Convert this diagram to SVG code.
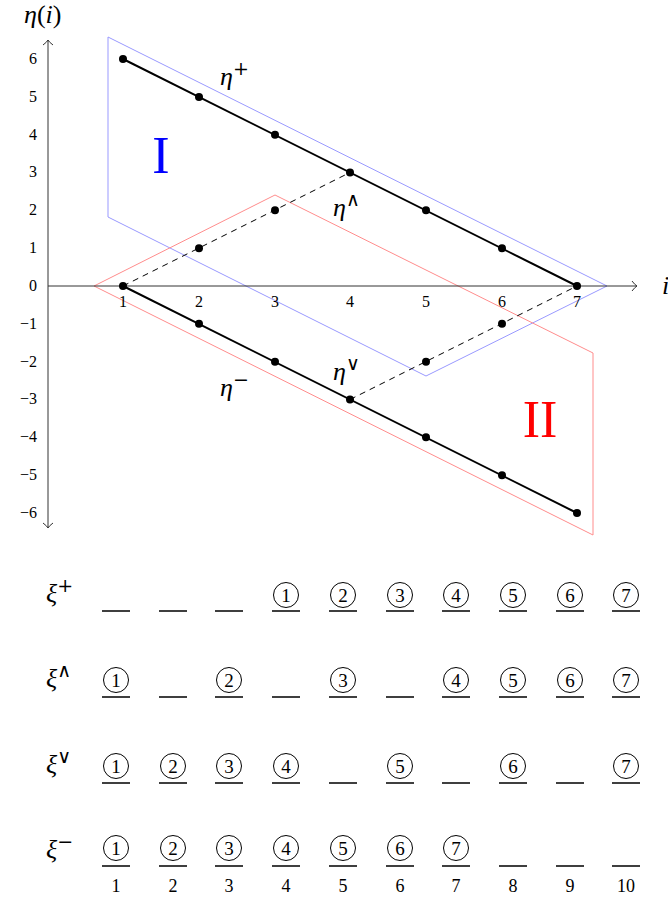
<svg xmlns="http://www.w3.org/2000/svg" width="668" height="901" viewBox="0 0 668 901">
<style>
text{font-family:"Liberation Serif","DejaVu Serif",serif;fill:#000}
.it{font-style:italic}
.tick{font-size:16px}
.lbl{font-size:26px}
.sup{font-size:19px;font-style:normal;font-family:"DejaVu Serif",serif}
.op{font-size:19px;font-style:normal;font-family:"DejaVu Sans",sans-serif}
.axis{stroke:#333;stroke-width:1;fill:none}
.main{stroke:#000;stroke-width:2;fill:none}
.dash{stroke:#000;stroke-width:1;stroke-dasharray:6,5;fill:none}
.dot{fill:#000}
.circ{fill:none;stroke:#000;stroke-width:1}
.ul{stroke:#000;stroke-width:1.3}
.cd{font-size:19px;text-anchor:middle}
.cn{font-size:18px;text-anchor:middle}
</style>
<defs>
<marker id="arr" viewBox="-6 -6 8 12" markerWidth="8" markerHeight="12" refX="0" refY="0" orient="auto-start-reverse" markerUnits="userSpaceOnUse">
<path d="M-5,-5 Q-2,-1 0,0 Q-2,1 -5,5" fill="none" stroke="#333" stroke-width="1"/>
</marker>
</defs>
<g id="regions">
<polygon id="region-I" points="108,37 108,217 426,376 607,286" fill="none" stroke="#9999ff" stroke-width="1"/>
<polygon id="region-II" points="94,286 275,195 593,353 593,535" fill="none" stroke="#ff8c8c" stroke-width="1"/>
<text x="161" y="173" font-size="52" text-anchor="middle" style="fill:#0000ff">I</text>
<text x="540" y="437" font-size="52" text-anchor="middle" style="fill:#ff0000">II</text>
</g>
<g id="axes">
<line class="axis" x1="48" y1="286" x2="637" y2="286" marker-end="url(#arr)"/>
<line class="axis" x1="48" y1="528" x2="48" y2="40" marker-start="url(#arr)" marker-end="url(#arr)"/>
<text x="24" y="23" font-size="26"><tspan class="it">η</tspan>(<tspan class="it">i</tspan>)</text>
<text class="lbl it" x="662" y="294">i</text>
<g class="tick" text-anchor="end">
<text x="37" y="64">6</text>
<text x="37" y="102">5</text>
<text x="37" y="140">4</text>
<text x="37" y="177">3</text>
<text x="37" y="215">2</text>
<text x="37" y="253">1</text>
<text x="37" y="291">0</text>
<text x="37" y="329">−1</text>
<text x="37" y="367">−2</text>
<text x="37" y="404">−3</text>
<text x="37" y="442">−4</text>
<text x="37" y="480">−5</text>
<text x="37" y="518">−6</text>
</g>
<g class="tick" text-anchor="middle">
<text x="123" y="307">1</text>
<text x="199" y="307">2</text>
<text x="275" y="307">3</text>
<text x="350" y="307">4</text>
<text x="426" y="307">5</text>
<text x="502" y="307">6</text>
<text x="577" y="307">7</text>
</g>
</g>
<g id="connectors">
<polyline id="eta-plus" class="main" points="123,59 577,286"/>
<polyline id="eta-minus" class="main" points="123,286 577,513"/>
<polyline id="eta-wedge" class="dash" points="123,286 350,172.5"/>
<polyline id="eta-vee" class="dash" points="350,399.5 577,286"/>
</g>
<g id="points">
<circle class="dot" cx="123" cy="59" r="4"/>
<circle class="dot" cx="199" cy="97" r="4"/>
<circle class="dot" cx="275" cy="134.7" r="4"/>
<circle class="dot" cx="350" cy="172.5" r="4"/>
<circle class="dot" cx="426" cy="210.3" r="4"/>
<circle class="dot" cx="502" cy="248.2" r="4"/>
<circle class="dot" cx="577" cy="286" r="4"/>
<circle class="dot" cx="123" cy="286" r="4"/>
<circle class="dot" cx="199" cy="323.8" r="4"/>
<circle class="dot" cx="275" cy="361.7" r="4"/>
<circle class="dot" cx="350" cy="399.5" r="4"/>
<circle class="dot" cx="426" cy="437.3" r="4"/>
<circle class="dot" cx="502" cy="475.2" r="4"/>
<circle class="dot" cx="577" cy="513" r="4"/>
<circle class="dot" cx="199" cy="248.2" r="4"/>
<circle class="dot" cx="275" cy="210.3" r="4"/>
<circle class="dot" cx="426" cy="361.7" r="4"/>
<circle class="dot" cx="502" cy="323.8" r="4"/>
</g>
<g id="curve-labels">
<text class="lbl it" x="220" y="85">η<tspan class="sup" dy="-10">+</tspan></text>
<text class="lbl it" x="220" y="396">η<tspan class="sup" dy="-10">−</tspan></text>
<text class="lbl it" x="333" y="216">η<tspan class="op" dy="-10">∧</tspan></text>
<text class="lbl it" x="333" y="380">η<tspan class="op" dy="-10">∨</tspan></text>
</g>
<g id="table">
<g id="row-labels">
<text class="lbl it" x="46" y="602">ξ<tspan class="sup" font-size="16" dy="-10">+</tspan></text>
<text class="lbl it" x="46" y="687">ξ<tspan class="op" font-size="16" dy="-10">∧</tspan></text>
<text class="lbl it" x="46" y="773">ξ<tspan class="op" font-size="16" dy="-10">∨</tspan></text>
<text class="lbl it" x="46" y="858">ξ<tspan class="sup" font-size="16" dy="-10">−</tspan></text>
</g>
<g id="underlines">
<path class="ul" d="M102,611h28M159,611h28M215,611h28M272,611h28M329,611h28M386,611h28M442,611h28M499,611h28M556,611h28M612,611h28"/>
<path class="ul" d="M102,697h28M159,697h28M215,697h28M272,697h28M329,697h28M386,697h28M442,697h28M499,697h28M556,697h28M612,697h28"/>
<path class="ul" d="M102,783h28M159,783h28M215,783h28M272,783h28M329,783h28M386,783h28M442,783h28M499,783h28M556,783h28M612,783h28"/>
<path class="ul" d="M102,866h28M159,866h28M215,866h28M272,866h28M329,866h28M386,866h28M442,866h28M499,866h28M556,866h28M612,866h28"/>
</g>
<g id="row-plus">
<circle class="circ" cx="286" cy="595" r="12.5"/><text class="cd" x="286" y="601.5">1</text>
<circle class="circ" cx="343" cy="595" r="12.5"/><text class="cd" x="343" y="601.5">2</text>
<circle class="circ" cx="400" cy="595" r="12.5"/><text class="cd" x="400" y="601.5">3</text>
<circle class="circ" cx="456" cy="595" r="12.5"/><text class="cd" x="456" y="601.5">4</text>
<circle class="circ" cx="513" cy="595" r="12.5"/><text class="cd" x="513" y="601.5">5</text>
<circle class="circ" cx="570" cy="595" r="12.5"/><text class="cd" x="570" y="601.5">6</text>
<circle class="circ" cx="626" cy="595" r="12.5"/><text class="cd" x="626" y="601.5">7</text>
</g>
<g id="row-wedge">
<circle class="circ" cx="116" cy="680" r="12.5"/><text class="cd" x="116" y="686.5">1</text>
<circle class="circ" cx="229" cy="680" r="12.5"/><text class="cd" x="229" y="686.5">2</text>
<circle class="circ" cx="343" cy="680" r="12.5"/><text class="cd" x="343" y="686.5">3</text>
<circle class="circ" cx="456" cy="680" r="12.5"/><text class="cd" x="456" y="686.5">4</text>
<circle class="circ" cx="513" cy="680" r="12.5"/><text class="cd" x="513" y="686.5">5</text>
<circle class="circ" cx="570" cy="680" r="12.5"/><text class="cd" x="570" y="686.5">6</text>
<circle class="circ" cx="626" cy="680" r="12.5"/><text class="cd" x="626" y="686.5">7</text>
</g>
<g id="row-vee">
<circle class="circ" cx="116" cy="766" r="12.5"/><text class="cd" x="116" y="772.5">1</text>
<circle class="circ" cx="173" cy="766" r="12.5"/><text class="cd" x="173" y="772.5">2</text>
<circle class="circ" cx="229" cy="766" r="12.5"/><text class="cd" x="229" y="772.5">3</text>
<circle class="circ" cx="286" cy="766" r="12.5"/><text class="cd" x="286" y="772.5">4</text>
<circle class="circ" cx="400" cy="766" r="12.5"/><text class="cd" x="400" y="772.5">5</text>
<circle class="circ" cx="513" cy="766" r="12.5"/><text class="cd" x="513" y="772.5">6</text>
<circle class="circ" cx="626" cy="766" r="12.5"/><text class="cd" x="626" y="772.5">7</text>
</g>
<g id="row-minus">
<circle class="circ" cx="116" cy="848" r="12.5"/><text class="cd" x="116" y="854.5">1</text>
<circle class="circ" cx="173" cy="848" r="12.5"/><text class="cd" x="173" y="854.5">2</text>
<circle class="circ" cx="229" cy="848" r="12.5"/><text class="cd" x="229" y="854.5">3</text>
<circle class="circ" cx="286" cy="848" r="12.5"/><text class="cd" x="286" y="854.5">4</text>
<circle class="circ" cx="343" cy="848" r="12.5"/><text class="cd" x="343" y="854.5">5</text>
<circle class="circ" cx="400" cy="848" r="12.5"/><text class="cd" x="400" y="854.5">6</text>
<circle class="circ" cx="456" cy="848" r="12.5"/><text class="cd" x="456" y="854.5">7</text>
</g>
<g id="column-numbers">
<text class="cn" x="116" y="892">1</text>
<text class="cn" x="173" y="892">2</text>
<text class="cn" x="229" y="892">3</text>
<text class="cn" x="286" y="892">4</text>
<text class="cn" x="343" y="892">5</text>
<text class="cn" x="400" y="892">6</text>
<text class="cn" x="456" y="892">7</text>
<text class="cn" x="513" y="892">8</text>
<text class="cn" x="570" y="892">9</text>
<text class="cn" x="626" y="892">10</text>
</g>
</g>
</svg>
